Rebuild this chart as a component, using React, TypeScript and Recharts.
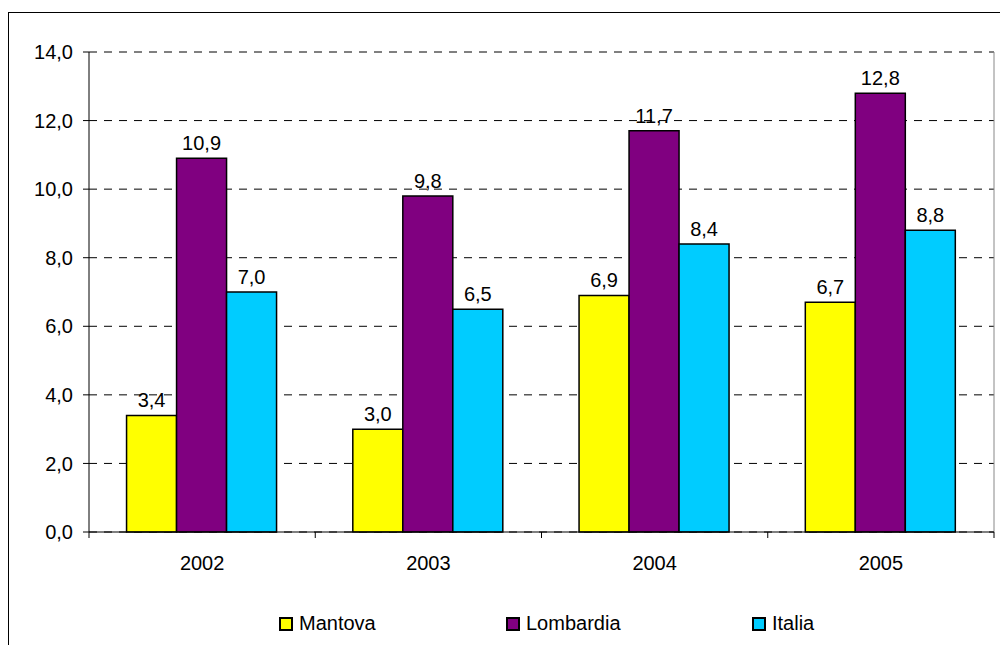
import React from 'react';
import {
  BarChart,
  Bar,
  XAxis,
  YAxis,
  CartesianGrid,
  LabelList,
} from 'recharts';

// Values
const years = ['2002', '2003', '2004', '2005'];
const mantova = [3.4, 3.0, 6.9, 6.7];
const lombardia = [10.9, 9.8, 11.7, 12.8];
const italia = [7.0, 6.5, 8.4, 8.8];
const yTicks = [0, 2, 4, 6, 8, 10, 12, 14];

const series = [
  { key: 'mantova', name: 'Mantova', color: '#FFFF00' },
  { key: 'lombardia', name: 'Lombardia', color: '#800080' },
  { key: 'italia', name: 'Italia', color: '#00CCFF' },
];

const data = years.map((year, i) => ({
  year,
  mantova: mantova[i],
  lombardia: lombardia[i],
  italia: italia[i],
}));

const FONT = '"Liberation Sans", Arial, sans-serif';
const fmt = (v: number) => v.toFixed(1).replace('.', ',');

// category label plus tick marks on the category boundaries (Excel style)
const CategoryTick = (props: any) => {
  const { x, y, payload, index, visibleTicksCount } = props;
  const half = payload.offset || 0;
  const top = y - 24; // axis line position (tickMargin)
  return (
    <g>
      <line x1={x - half} x2={x - half} y1={top} y2={top + 6} stroke="#000" />
      {index === visibleTicksCount - 1 && (
        <line x1={x + half} x2={x + half} y1={top} y2={top + 6} stroke="#000" />
      )}
      <text
        x={x}
        y={y}
        dy="0.71em"
        textAnchor="middle"
        fill="#000"
        fontSize={20}
        fontFamily={FONT}
      >
        {payload.value}
      </text>
    </g>
  );
};

export default function App() {
  return (
    <div
      style={{
        position: 'absolute',
        top: 0,
        left: 0,
        width: 1000,
        height: 645,
        overflow: 'hidden',
        background: '#fff',
        fontFamily: FONT,
      }}
    >
      {/* outer chart frame, runs off the right and bottom */}
      <div
        style={{
          position: 'absolute',
          top: 12,
          left: 8,
          width: 1100,
          height: 800,
          border: '1px solid #000',
          boxSizing: 'border-box',
        }}
      />
      <div style={{ position: 'absolute', top: 0, left: 0 }}>
        <BarChart
          width={1000}
          height={645}
          data={data}
          margin={{ top: 52, right: 6, left: 9, bottom: 53 }}
          barCategoryGap="16.6%"
          barGap={0}
        >
          <CartesianGrid
            vertical={false}
            stroke="#000"
            strokeDasharray="8 7"
          />
          <CartesianGrid
            horizontal={false}
            stroke="#888"
            verticalCoordinatesGenerator={({ offset }: any) => [
              offset.left + offset.width,
            ]}
          />
          <XAxis
            dataKey="year"
            axisLine={{ stroke: '#000' }}
            tickLine={false}
            tickSize={0}
            tickMargin={24}
            height={60}
            tick={<CategoryTick />}
          />
          <YAxis
            domain={[0, 14]}
            ticks={yTicks}
            width={80}
            axisLine={{ stroke: '#000' }}
            tickLine={{ stroke: '#000' }}
            tickSize={6}
            tickMargin={10}
            tickFormatter={fmt}
            tick={{ fill: '#000', fontSize: 20, fontFamily: FONT }}
          />
          {series.map((s) => (
            <Bar
              key={s.key}
              dataKey={s.key}
              name={s.name}
              fill={s.color}
              stroke="#000"
              strokeWidth={1.5}
              isAnimationActive={false}
            >
              <LabelList
                dataKey={s.key}
                position="top"
                offset={8}
                formatter={(v: any) => fmt(Number(v))}
                style={{ fill: '#000', fontSize: 20, fontFamily: FONT }}
              />
            </Bar>
          ))}
        </BarChart>
      </div>
      {/* legend */}
      {series.map((s, i) => {
        const lefts = [279, 506, 752];
        return (
          <div
            key={s.key}
            style={{
              position: 'absolute',
              left: lefts[i],
              top: 612,
              display: 'flex',
              alignItems: 'center',
              fontSize: 20,
              color: '#000',
            }}
          >
            <span
              style={{
                width: 14,
                height: 14,
                boxSizing: 'border-box',
                background: s.color,
                border: '2px solid #000',
                marginRight: 6,
                display: 'inline-block',
              }}
            />
            <span>{s.name}</span>
          </div>
        );
      })}
    </div>
  );
}
